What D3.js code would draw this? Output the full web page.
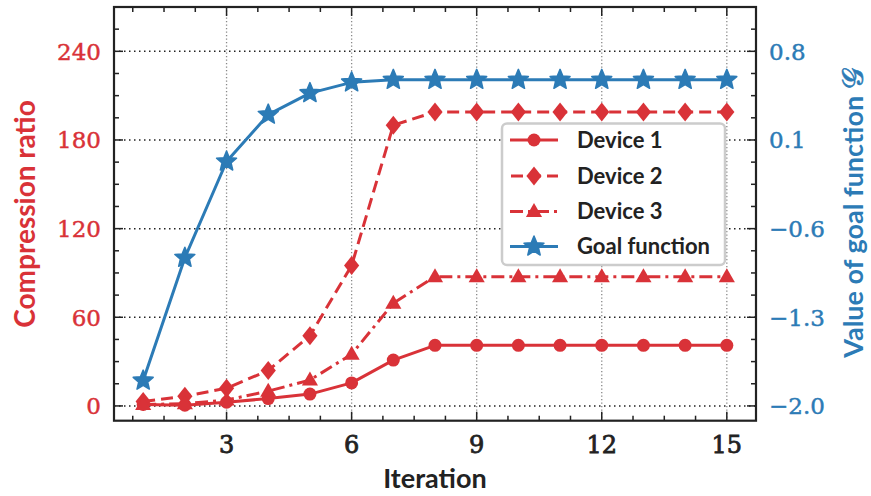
<!DOCTYPE html>
<html><head><meta charset="utf-8">
<script src="https://cdn.jsdelivr.net/npm/d3@7"></script>
<style>body{margin:0;background:#fff}svg{display:block}</style>
</head><body><svg id="c" width="871" height="496"></svg>
<script>
const iterations = [1,2,3,4,5,6,7,8,9,10,11,12,13,14,15];
const device1 = [1, 0.5, 2.5, 5, 8, 15.6, 31, 41, 41, 41, 41, 41, 41, 41, 41];
const device2 = [3, 6.5, 12, 24, 47.5, 95, 190, 199, 199, 199, 199, 199, 199, 199, 199];
const device3 = [1, 1.5, 4, 10, 17.5, 35, 69.5, 87.5, 87.5, 87.5, 87.5, 87.5, 87.5, 87.5, 87.5];
const goal = [-1.80, -0.83, -0.07, 0.30, 0.47, 0.555, 0.575, 0.575, 0.575, 0.575, 0.575, 0.575, 0.575, 0.575, 0.575];
const xTicks = [3,6,9,12,15];
const yLeftTicks = [0,60,120,180,240];
const yRightTicks = [-2.0,-1.3,-0.6,0.1,0.8];
const legendLabels = ["Device 1","Device 2","Device 3","Goal function"];

const RED = "#d93238", BLUE = "#2c7bb6", INK = "#222";
const svg = d3.select("#c");
const L = 114, R = 756, T = 7, B = 420.7;
const x = d3.scaleLinear().domain([0.3, 15.7]).range([L, R]);
const y = d3.scaleLinear().domain([-10, 270]).range([B, T]);
const yR = d3.scaleLinear().domain([-2 - 10*2.8/240, -2 + 270*2.8/240]).range([B, T]);

// grid
const g = svg.append("g");
g.selectAll(".vg").data(xTicks).join("line")
  .attr("x1", d=>x(d)).attr("x2", d=>x(d)).attr("y1", T).attr("y2", B)
  .attr("stroke", "#888").attr("stroke-width", 1.3).attr("stroke-dasharray", "1.3,2.2");
g.selectAll(".hg").data(yLeftTicks).join("line")
  .attr("x1", L).attr("x2", R).attr("y1", d=>y(d)).attr("y2", d=>y(d))
  .attr("stroke", INK).attr("stroke-width", 1.5).attr("stroke-dasharray", "1.5,3.5");

// series
const pts = arr => arr.map((v,i)=>[iterations[i], v]);
const lineL = d3.line().x(d=>x(d[0])).y(d=>y(d[1]));
const lineR = d3.line().x(d=>x(d[0])).y(d=>yR(d[1]));

function star(R0){
  const r0 = R0*0.45, p=[];
  for(let k=0;k<10;k++){const a=-Math.PI/2+k*Math.PI/5, rr=k%2?r0:R0; p.push([rr*Math.cos(a), rr*Math.sin(a)]);}
  return "M"+p.map(q=>q.join(",")).join("L")+"Z";
}
const diamond = s => `M0,${-s}L${s*0.8},0L0,${s}L${-s*0.8},0Z`;
const tri = s => `M0,${-s}L${s*0.95},${s*0.65}L${-s*0.95},${s*0.65}Z`;

const series = [
  {data: pts(device1), line: lineL, yy: y, color: RED, dash: null, marker: "circle"},
  {data: pts(device2), line: lineL, yy: y, color: RED, dash: "12,6", marker: "diamond"},
  {data: pts(device3), line: lineL, yy: y, color: RED, dash: "13,5,3,5", marker: "tri"},
  {data: pts(goal), line: lineR, yy: yR, color: BLUE, dash: null, marker: "star"}
];
function drawMarker(sel, m, color){
  if(m==="circle") sel.append("circle").attr("r", 6.5).attr("fill", color);
  else if(m==="diamond") sel.append("path").attr("d", diamond(9.5)).attr("fill", color);
  else if(m==="tri") sel.append("path").attr("d", tri(8.5)).attr("fill", color);
  else sel.append("path").attr("d", star(10.5)).attr("fill", color).attr("stroke", color).attr("stroke-width",1.5).attr("stroke-linejoin","round");
}
series.forEach(s=>{
  svg.append("path").attr("d", s.line(s.data)).attr("fill","none").attr("stroke", s.color)
    .attr("stroke-width", 3).attr("stroke-dasharray", s.dash).attr("stroke-linejoin","round");
  s.data.forEach(d=>{
    const gg = svg.append("g").attr("transform", `translate(${x(d[0])},${s.yy(d[1])})`);
    drawMarker(gg, s.marker, s.color);
  });
});

// frame
svg.append("rect").attr("x", L).attr("y", T).attr("width", R-L).attr("height", B-T)
  .attr("fill","none").attr("stroke", INK).attr("stroke-width", 2.2);

// ticks
const tk = svg.append("g").attr("stroke", INK).attr("stroke-width", 1.5);
const xMinor = d3.range(0.75, 15.7, 0.75);
xMinor.forEach(v=>{
  const major = xTicks.some(t=>Math.abs(t-v)<1e-6);
  const len = major ? 9 : 5;
  tk.append("line").attr("x1", x(v)).attr("x2", x(v)).attr("y1", B).attr("y2", B-len);
  tk.append("line").attr("x1", x(v)).attr("x2", x(v)).attr("y1", T).attr("y2", T+len);
});
d3.range(0, 270, 15).forEach(v=>{
  const major = yLeftTicks.includes(v);
  const len = major ? 9 : 5;
  tk.append("line").attr("x1", L).attr("x2", L+len).attr("y1", y(v)).attr("y2", y(v));
});
d3.range(0, 18).map(k=>-2 + k*0.175).filter(v=>v<1.15).forEach(v=>{
  const major = yRightTicks.some(t=>Math.abs(t-v)<1e-6);
  const len = major ? 9 : 5;
  tk.append("line").attr("x1", R).attr("x2", R-len).attr("y1", yR(v)).attr("y2", yR(v));
});

// tick labels
const serif = "DejaVu Serif, Liberation Serif, serif";
svg.append("g").selectAll("text").data(xTicks).join("text")
  .attr("x", d=>x(d)).attr("y", 453).attr("text-anchor","middle")
  .attr("font-family", serif).attr("font-size", 24).attr("fill", INK)
  .attr("stroke", INK).attr("stroke-width", 0.8).text(d=>d);
svg.append("g").selectAll("text").data(yLeftTicks).join("text")
  .attr("x", 101).attr("y", d=>y(d)+8.5).attr("text-anchor","end")
  .attr("font-family", serif).attr("font-size", 23).attr("fill", RED)
  .attr("stroke", RED).attr("stroke-width", 0.45).text(d=>d);
svg.append("g").selectAll("text").data(yRightTicks).join("text")
  .attr("x", 769).attr("y", d=>yR(d)+8.5).attr("text-anchor","start")
  .attr("font-family", serif).attr("font-size", 23).attr("fill", BLUE)
  .attr("stroke", BLUE).attr("stroke-width", 0.45)
  .text(d=>d3.format(".1f")(d).replace("-", "\u2212"));

// axis labels
const sans = "Lato, Open Sans, sans-serif";
svg.append("text").attr("x", 435).attr("y", 488).attr("text-anchor","middle")
  .attr("font-family", sans).attr("font-weight", 700).attr("font-size", 27).attr("fill", INK).text("Iteration");
svg.append("text").attr("transform", "translate(35,214) rotate(-90)").attr("text-anchor","middle")
  .attr("font-family", sans).attr("font-weight", 700).attr("font-size", 28).attr("fill", RED).text("Compression ratio");
const rl = svg.append("text").attr("transform", "translate(863,213) rotate(-90)").attr("text-anchor","middle")
  .attr("font-family", sans).attr("font-weight", 700).attr("font-size", 27).attr("fill", BLUE);
rl.append("tspan").text("Value of goal function ");
rl.append("tspan").attr("font-family", "DejaVu Serif, serif").attr("font-weight",400)
  .attr("font-size", 30).attr("stroke", BLUE).attr("stroke-width", 0.6).text("\uD835\uDCA2");

// legend
const lg = svg.append("g");
lg.append("rect").attr("x", 502).attr("y", 123.5).attr("width", 223).attr("height", 141.5).attr("rx", 5)
  .attr("fill", "#fff").attr("stroke", "#cccccc").attr("stroke-width", 2.5);
const ly = [140, 176, 211.5, 246.5];
series.forEach((s,i)=>{
  lg.append("line").attr("x1", 510).attr("x2", 558).attr("y1", ly[i]).attr("y2", ly[i])
    .attr("stroke", s.color).attr("stroke-width", 3).attr("stroke-dasharray", s.dash ? (i===1 ? "12,6" : "13,5,3,5") : null)
    .attr("stroke-dashoffset", i===1 ? -1 : 0);
  const gg = lg.append("g").attr("transform", `translate(534,${ly[i]})`);
  drawMarker(gg, s.marker, s.color);
  lg.append("text").attr("x", 577).attr("y", ly[i]+7.5).attr("font-family", sans).attr("font-weight", 700)
    .attr("font-size", 22).attr("fill", INK).text(legendLabels[i]);
});
</script></body></html>
